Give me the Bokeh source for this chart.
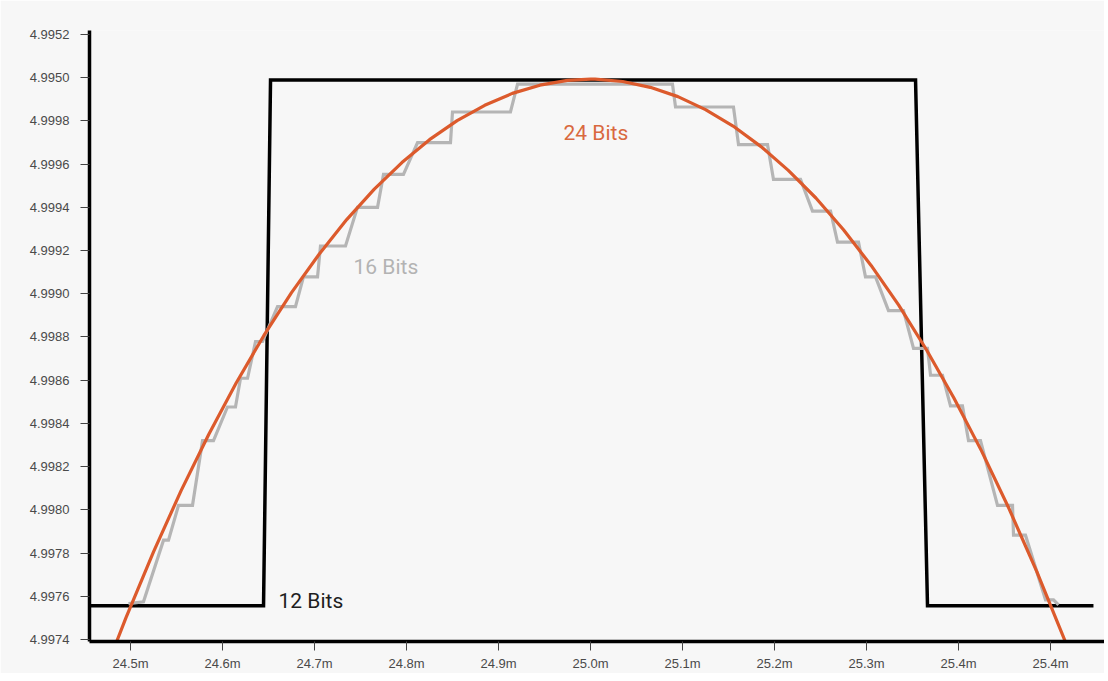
from bokeh.plotting import figure
from bokeh.models import FixedTicker, CustomJSTickFormatter, Range1d, Label
from bokeh.embed import file_html
from bokeh.resources import INLINE

# ---- data (time in ms, voltage in V) ----
x_ticks = [24.5, 24.6, 24.7, 24.8, 24.9, 25.0, 25.1, 25.2, 25.3, 25.4, 25.5]
x_tick_labels = ["24.5m", "24.6m", "24.7m", "24.8m", "24.9m", "25.0m",
                 "25.1m", "25.2m", "25.3m", "25.4m", "25.4m"]
y_ticks = [4.9974, 4.9976, 4.9978, 4.9980, 4.9982, 4.9984, 4.9986, 4.9988,
           4.9990, 4.9992, 4.9994, 4.9996, 4.9998, 5.0000, 5.0002]
y_tick_labels = ["4.9974", "4.9976", "4.9978", "4.9980", "4.9982", "4.9984",
                 "4.9986", "4.9988", "4.9990", "4.9992", "4.9994", "4.9996",
                 "4.9998", "4.9950", "4.9952"]

# 12-bit trace
bits12_x = [24.4565, 24.6446, 24.6522, 25.3533, 25.3663, 25.5467]
bits12_y = [4.997556, 4.997556, 4.999989, 4.999989, 4.997556, 4.997556]

# 16-bit trace (staircase)
bits16_x = [24.4978, 24.5141, 24.5359, 24.5413, 24.5522, 24.5674, 24.5783,
            24.5902, 24.6054, 24.6141, 24.6196, 24.6272, 24.6359, 24.6435,
            24.6598, 24.6793, 24.6880, 24.7033, 24.7065, 24.7337, 24.7467,
            24.7685, 24.7750, 24.7967, 24.8120, 24.8478, 24.8500, 24.9130,
            24.9207, 25.0891, 25.0924, 25.1554, 25.1609, 25.1924, 25.1989,
            25.2283, 25.2413, 25.2609, 25.2685, 25.2913, 25.2989, 25.3098,
            25.3239, 25.3402, 25.3511, 25.3663, 25.3696, 25.3826, 25.3913,
            25.4043, 25.4109, 25.4239, 25.4424, 25.4587, 25.4598, 25.4728,
            25.4946, 25.5033, 25.5087]
bits16_y = [4.997566, 4.997575, 4.997860, 4.997860, 4.998021, 4.998021, 4.998320,
            4.998320, 4.998476, 4.998476, 4.998609, 4.998609, 4.998779, 4.998779,
            4.998940, 4.998940, 4.999078, 4.999078, 4.999221, 4.999221, 4.999400,
            4.999400, 4.999552, 4.999552, 4.999699, 4.999699, 4.999841, 4.999841,
            4.999970, 4.999970, 4.999864, 4.999864, 4.999690, 4.999690, 4.999529,
            4.999529, 4.999382, 4.999382, 4.999239, 4.999239, 4.999078, 4.999078,
            4.998922, 4.998922, 4.998747, 4.998747, 4.998623, 4.998623, 4.998481,
            4.998481, 4.998320, 4.998320, 4.998021, 4.998021, 4.997883, 4.997883,
            4.997584, 4.997584, 4.997561]

# 24-bit trace (smooth)
bits24_x = [24.475, 24.495, 24.525, 24.555, 24.585, 24.615, 24.645, 24.675,
            24.705, 24.735, 24.765, 24.795, 24.825, 24.855, 24.885, 24.915,
            24.945, 24.975, 25.000, 25.005, 25.035, 25.065, 25.095, 25.125,
            25.155, 25.185, 25.215, 25.245, 25.275, 25.305, 25.335, 25.365,
            25.395, 25.425, 25.455, 25.485, 25.515, 25.525]
bits24_y = [4.997282, 4.997500, 4.997806, 4.998089, 4.998349, 4.998588, 4.998807,
            4.999005, 4.999183, 4.999343, 4.999484, 4.999607, 4.999713, 4.999801,
            4.999872, 4.999927, 4.999965, 4.999987, 4.999993, 4.999993, 4.999982,
            4.999955, 4.999912, 4.999852, 4.999776, 4.999682, 4.999571, 4.999443,
            4.999296, 4.999131, 4.998947, 4.998742, 4.998518, 4.998273, 4.998005,
            4.997715, 4.997402, 4.997292]

BG = "#f7f7f7"

p = figure(width=1104, height=673, output_backend="svg", toolbar_location=None,
           x_range=Range1d(24.45543, 25.55869), y_range=Range1d(4.997391, 5.000218),
           min_border_left=89, min_border_right=0, min_border_top=30,
           min_border_bottom=28)
p.background_fill_color = BG
p.border_fill_color = BG
p.outline_line_color = None
p.xgrid.visible = False
p.ygrid.visible = False

p.line(bits12_x, bits12_y, line_color="#000000", line_width=3.5, line_join="miter")
p.line(bits16_x, bits16_y, line_color="#b5b5b5", line_width=3.2, line_join="miter")
p.line(bits24_x, bits24_y, line_color="#dc5a2c", line_width=3.2)

finder = """
let best = 0;
for (let i = 0; i < vals.length; i++) {
  if (Math.abs(vals[i] - tick) < Math.abs(vals[best] - tick)) best = i;
}
return labels[best];
"""
p.xaxis.ticker = FixedTicker(ticks=x_ticks)
p.xaxis.formatter = CustomJSTickFormatter(args=dict(vals=x_ticks, labels=x_tick_labels), code=finder)
p.yaxis.ticker = FixedTicker(ticks=y_ticks)
p.yaxis.formatter = CustomJSTickFormatter(args=dict(vals=y_ticks, labels=y_tick_labels), code=finder)

for ax in (p.xaxis[0], p.yaxis[0]):
    ax.axis_line_color = "#000000"
    ax.axis_line_width = 3.5
    ax.major_tick_line_color = "#444444"
    ax.major_tick_line_width = 1
    ax.major_tick_in = 0
    ax.major_tick_out = 9
    ax.minor_tick_line_color = None
    ax.major_label_text_font = "Liberation Sans"
    ax.major_label_text_font_size = "13px"
    ax.major_label_text_color = "#4a4a4a"
p.yaxis.major_label_standoff = 11
p.xaxis.major_label_standoff = 5

lab_font = "Roboto"
p.add_layout(Label(x=24.9707, y=4.999745, text="24 Bits", text_font=lab_font,
                   text_font_size="21px", text_color="#d9693f",
                   text_baseline="alphabetic"))
p.add_layout(Label(x=24.7424, y=4.999124, text="16 Bits", text_font=lab_font,
                   text_font_size="21px", text_color="#b3b3b3",
                   text_baseline="alphabetic"))
p.add_layout(Label(x=24.6609, y=4.997579, text="12 Bits", text_font=lab_font,
                   text_font_size="21px", text_color="#1e1e1e",
                   text_baseline="alphabetic"))

open("out.html", "w").write(file_html(p, INLINE))
